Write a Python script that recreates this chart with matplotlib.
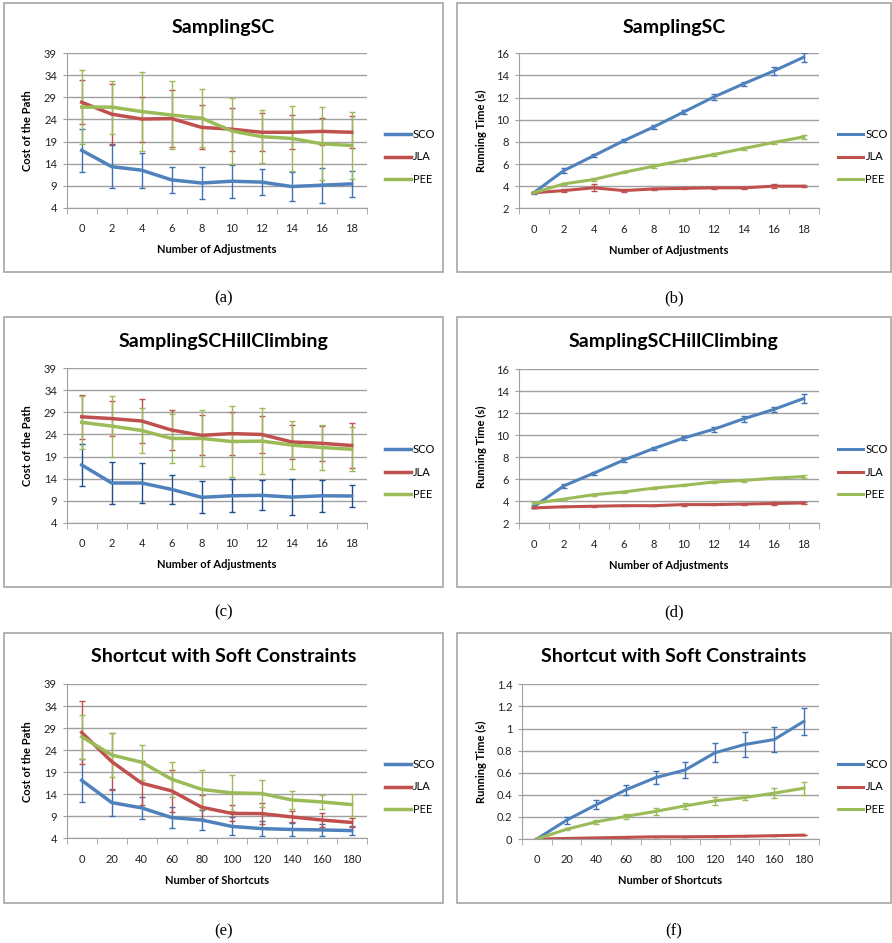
import numpy as np
import matplotlib.pyplot as plt
from matplotlib.patches import Rectangle
from matplotlib.lines import Line2D

plt.rcParams['font.family'] = ['Lato', 'DejaVu Sans']

W, H = 892, 943

adj_labels = ['0', '2', '4', '6', '8', '10', '12', '14', '16', '18']
sc_labels = ['0', '20', '40', '60', '80', '100', '120', '140', '160', '180']
names = ['SCO', 'JLA', 'PEE']

# (a) SamplingSC - cost
a_sco = [17.0, 13.3, 12.5, 10.3, 9.6, 10.0, 9.8, 8.8, 9.1, 9.4]
a_sco_err = [4.9, 4.8, 4.0, 2.9, 3.65, 3.7, 2.9, 3.35, 4.0, 2.95]
a_jla = [27.9, 25.2, 24.1, 24.2, 22.2, 21.8, 21.1, 21.1, 21.3, 21.1]
a_jla_err = [5.0, 6.8, 5.1, 6.4, 5.0, 4.85, 4.35, 3.85, 3.1, 3.6]
a_pee = [26.8, 26.8, 25.8, 25.0, 24.3, 21.4, 20.1, 19.7, 18.5, 18.1]
a_pee_err = [8.4, 6.0, 8.9, 7.75, 6.5, 7.55, 6.0, 7.45, 8.25, 7.6]

# (b) SamplingSC - time
b_sco = [3.4, 5.4, 6.75, 8.1, 9.35, 10.7, 12.05, 13.25, 14.4, 15.65]
b_sco_err = [0.1, 0.2, 0.15, 0.15, 0.2, 0.2, 0.25, 0.2, 0.4, 0.4]
b_jla = [3.4, 3.6, 3.85, 3.6, 3.75, 3.8, 3.85, 3.85, 4.0, 4.0]
b_jla_err = [0.05, 0.1, 0.3, 0.1, 0.1, 0.1, 0.1, 0.1, 0.15, 0.1]
b_pee = [3.4, 4.2, 4.6, 5.25, 5.8, 6.35, 6.85, 7.4, 7.95, 8.45]
b_pee_err = [0.05, 0.1, 0.1, 0.1, 0.2, 0.1, 0.1, 0.1, 0.1, 0.2]

# (c) SamplingSCHillClimbing - cost
c_sco = [17.1, 13.0, 13.0, 11.55, 9.75, 10.1, 10.2, 9.8, 10.1, 10.05]
c_sco_err = [4.85, 4.7, 4.6, 3.2, 3.6, 3.7, 3.4, 4.0, 3.6, 2.6]
c_jla = [28.0, 27.6, 27.05, 25.0, 23.8, 24.2, 24.0, 22.3, 22.0, 21.5]
c_jla_err = [5.0, 3.9, 5.0, 4.5, 4.55, 4.8, 4.3, 3.85, 3.95, 5.15]
c_pee = [26.75, 25.9, 24.9, 23.1, 23.1, 22.4, 22.5, 21.6, 21.05, 20.65]
c_pee_err = [6.0, 6.9, 5.0, 5.5, 6.35, 8.0, 7.4, 5.5, 5.05, 5.0]

# (d) SamplingSCHillClimbing - time
d_sco = [3.5, 5.4, 6.55, 7.75, 8.8, 9.75, 10.55, 11.5, 12.35, 13.35]
d_sco_err = [0.15, 0.15, 0.15, 0.15, 0.15, 0.2, 0.25, 0.3, 0.2, 0.4]
d_jla = [3.4, 3.5, 3.55, 3.6, 3.6, 3.7, 3.7, 3.75, 3.8, 3.85]
d_jla_err = [0.05, 0.05, 0.05, 0.05, 0.05, 0.1, 0.05, 0.05, 0.15, 0.1]
d_pee = [3.8, 4.2, 4.6, 4.85, 5.2, 5.45, 5.75, 5.9, 6.1, 6.25]
d_pee_err = [0.1, 0.05, 0.1, 0.1, 0.1, 0.1, 0.1, 0.1, 0.1, 0.15]

# (e) Shortcut with Soft Constraints - cost
e_sco = [17.15, 12.1, 10.9, 8.7, 8.15, 6.7, 6.2, 6.0, 5.9, 5.75]
e_sco_err = [4.9, 3.0, 2.5, 2.3, 2.35, 2.05, 1.7, 1.5, 1.3, 1.0]
e_jla = [28.0, 21.4, 16.5, 14.75, 11.05, 9.65, 9.6, 8.85, 8.15, 7.6]
e_jla_err = [7.2, 6.5, 5.0, 4.8, 2.75, 1.8, 2.45, 1.25, 1.65, 1.0]
e_pee = [27.05, 22.9, 21.25, 17.4, 15.1, 14.3, 14.15, 12.7, 12.25, 11.65]
e_pee_err = [5.0, 5.0, 4.0, 4.0, 4.5, 4.15, 3.15, 2.0, 1.65, 2.5]

# (f) Shortcut with Soft Constraints - time
f_sco = [0, 0.17, 0.31, 0.445, 0.555, 0.625, 0.78, 0.855, 0.90, 1.065]
f_sco_err = [0, 0.03, 0.04, 0.045, 0.06, 0.07, 0.085, 0.115, 0.11, 0.12]
f_jla = [0, 0.005, 0.01, 0.015, 0.02, 0.02, 0.022, 0.025, 0.03, 0.035]
f_jla_err = [0, 0.002, 0.002, 0.002, 0.002, 0.002, 0.002, 0.002, 0.002, 0.002]
f_pee = [0, 0.088, 0.155, 0.205, 0.25, 0.30, 0.345, 0.375, 0.415, 0.46]
f_pee_err = [0, 0.01, 0.015, 0.025, 0.03, 0.025, 0.035, 0.025, 0.045, 0.06]

line_colors = ['#4F81BD', '#C0504D', '#9BBB59']
err_colors = ['#3F72B5', '#C0504D', '#9BBB59']
GRAY = '#A0A0A0'

fig = plt.figure(figsize=(W / 100, H / 100), dpi=100)


def frect(x0, y0, x1, y1):
    return [x0 / W, 1 - y1 / H, (x1 - x0) / W, (y1 - y0) / H]


def panel(box, axbox, title, title_y, ylabel, ylabel_x, xlabel, cats, series,
          yticks, ytl, leg_x, leg_y, caption, cap_y, lw, ecols=err_colors):
    x0, y0, x1, y1 = box
    fig.patches.append(Rectangle((x0 / W, 1 - y1 / H), (x1 - x0) / W, (y1 - y0) / H,
                                 transform=fig.transFigure, fill=False,
                                 ec='#A6A6A6', lw=1.2))
    ax = fig.add_axes(frect(*axbox))
    x = np.arange(len(cats))
    handles = []
    for (vals, err), c, ec, nm in zip(series, line_colors, ecols, names):
        ax.errorbar(x, vals, yerr=err, color=c, lw=lw, ecolor=ec,
                    elinewidth=1, capsize=2.5, capthick=1)
        handles.append(Line2D([], [], color=c, lw=lw))
    ax.set_xlim(-0.5, len(cats) - 0.5)
    ax.set_ylim(yticks[0], yticks[-1])
    ax.set_yticks(yticks)
    ax.set_yticklabels(ytl)
    ax.set_xticks(x)
    ax.set_xticklabels(cats)
    ax.set_xticks(np.arange(-0.5, len(cats)), minor=True)
    ax.tick_params(axis='x', which='major', length=0, pad=11, labelsize=8, colors='#222222')
    ax.tick_params(axis='x', which='minor', length=4, color=GRAY)
    ax.tick_params(axis='y', length=3, color=GRAY, pad=4, labelsize=8, labelcolor='#222222')
    ax.yaxis.grid(True, color=GRAY, lw=1)
    ax.set_axisbelow(True)
    for s in ['top', 'right']:
        ax.spines[s].set_visible(False)
    for s in ['left', 'bottom']:
        ax.spines[s].set_color(GRAY)
    ax.set_facecolor('none')

    ax_x0, ax_y0, ax_x1, ax_y1 = axbox
    fig.text((x0 + x1) / 2 / W, 1 - title_y / H, title, ha='center', va='center',
             fontsize=14, fontweight='bold')
    fig.text(ylabel_x / W, 1 - (ax_y0 + ax_y1) / 2 / H, ylabel, rotation=90,
             ha='center', va='center', fontsize=8, fontweight='bold')
    fig.text((ax_x0 + ax_x1) / 2 / W, 1 - (ax_y1 + 42) / H, xlabel,
             ha='center', va='center', fontsize=8, fontweight='bold')
    fig.legend(handles, names, loc='center left',
               bbox_to_anchor=(leg_x / W, 1 - leg_y / H), frameon=False,
               fontsize=8, handlelength=2.3, handletextpad=0.2,
               labelspacing=1.05, borderpad=0, borderaxespad=0)
    fig.text((x0 + x1) / 2 / W, 1 - cap_y / H, caption, ha='center', va='center',
             fontsize=12, family='Liberation Serif')


cost_ticks = [4, 9, 14, 19, 24, 29, 34, 39]
cost_tl = [str(v) for v in cost_ticks]
time_ticks = [2, 4, 6, 8, 10, 12, 14, 16]
time_tl = [str(v) for v in time_ticks]
small_ticks = [0, 0.2, 0.4, 0.6, 0.8, 1.0, 1.2, 1.4]
small_tl = ['0', '0.2', '0.4', '0.6', '0.8', '1', '1.2', '1.4']

panel((4, 3, 443, 272), (66.7, 53.3, 366.7, 207.7), 'SamplingSC', 27,
      'Cost of the Path', 28, 'Number of Adjustments', adj_labels,
      [(a_sco, a_sco_err), (a_jla, a_jla_err), (a_pee, a_pee_err)],
      cost_ticks, cost_tl, 385, 157, '(a)', 298, 2.5)
panel((457, 3, 891, 272), (518.7, 53.3, 818.7, 208.3), 'SamplingSC', 27,
      'Running Time (s)', 481, 'Number of Adjustments', adj_labels,
      [(b_sco, b_sco_err), (b_jla, b_jla_err), (b_pee, b_pee_err)],
      time_ticks, time_tl, 837.7, 157, '(b)', 298, 2.2)
panel((4, 317, 443, 587), (66.7, 368.3, 366.7, 522.7), 'SamplingSCHillClimbing', 342,
      'Cost of the Path', 28, 'Number of Adjustments', adj_labels,
      [(c_sco, c_sco_err), (c_jla, c_jla_err), (c_pee, c_pee_err)],
      cost_ticks, cost_tl, 385, 472, '(c)', 612, 2.5,
      ecols=['#1F4E8C', '#C0504D', '#9BBB59'])
panel((457, 317, 891, 587), (518.7, 369.3, 818.7, 523.3), 'SamplingSCHillClimbing', 342,
      'Running Time (s)', 481, 'Number of Adjustments', adj_labels,
      [(d_sco, d_sco_err), (d_jla, d_jla_err), (d_pee, d_pee_err)],
      time_ticks, time_tl, 837.7, 472, '(d)', 612, 2.2)
panel((4, 633, 443, 903), (66.7, 684, 366.7, 838.3), 'Shortcut with Soft Constraints', 657,
      'Cost of the Path', 28, 'Number of Shortcuts', sc_labels,
      [(e_sco, e_sco_err), (e_jla, e_jla_err), (e_pee, e_pee_err)],
      cost_ticks, cost_tl, 385, 787, '(e)', 931, 2.5)
panel((457, 633, 891, 903), (522, 684.3, 818.7, 839), 'Shortcut with Soft Constraints', 657,
      'Running Time (s)', 481, 'Number of Shortcuts', sc_labels,
      [(f_sco, f_sco_err), (f_jla, f_jla_err), (f_pee, f_pee_err)],
      small_ticks, small_tl, 837.7, 787, '(f)', 931, 2.2)

fig.savefig('out.png', dpi=100)
